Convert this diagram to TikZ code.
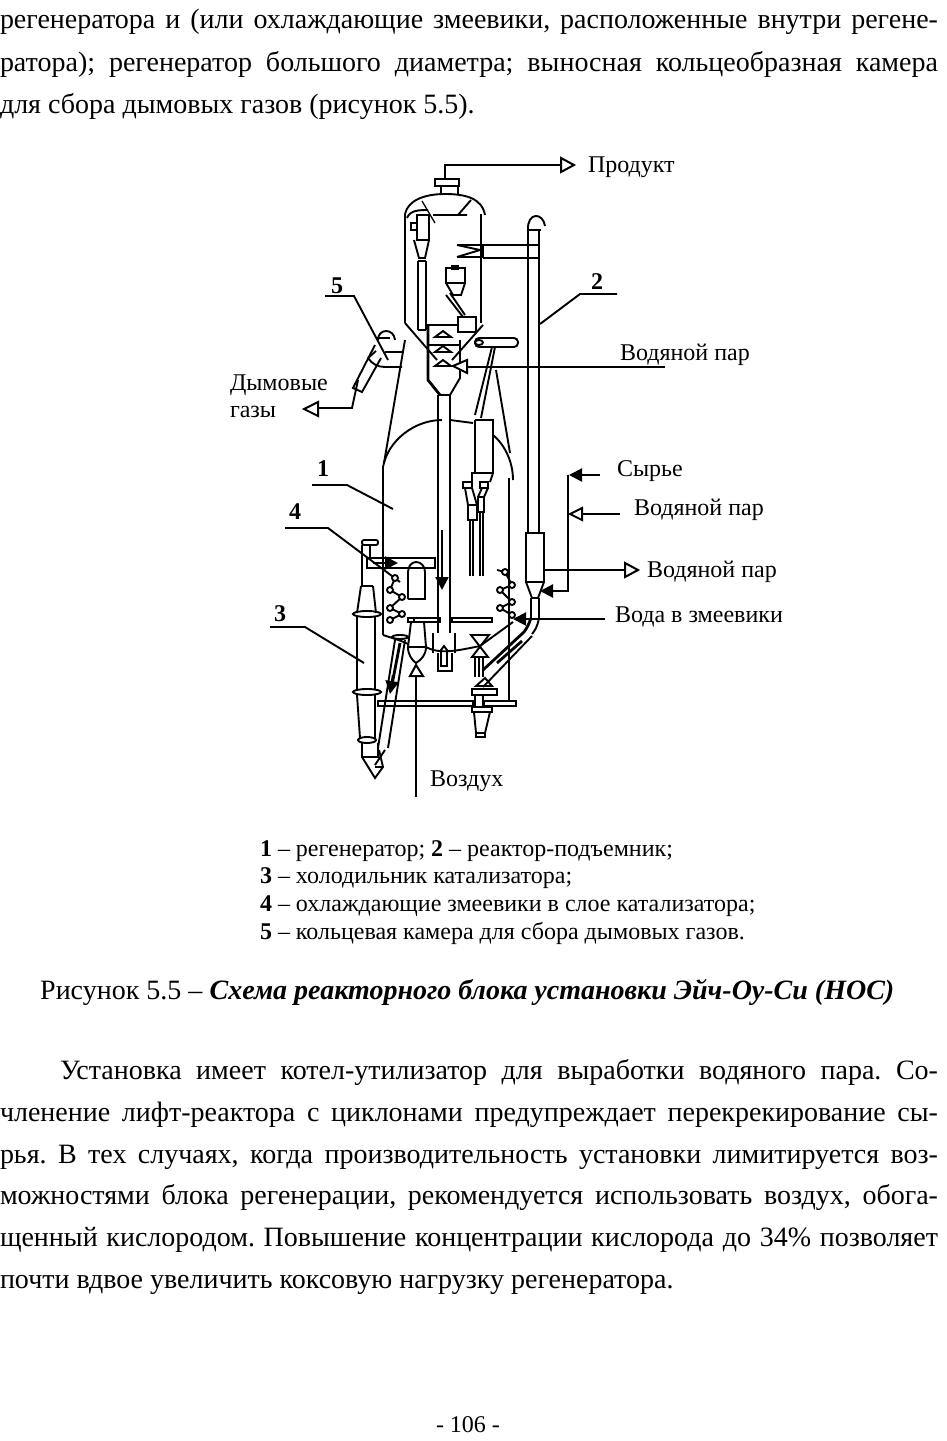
\documentclass[tikz,border=0pt]{standalone}
\usepackage{fontspec}
\setmainfont{Liberation Serif}
\usetikzlibrary{arrows.meta}
\newcommand{\bodyfont}{\fontsize{28}{32}\selectfont\frenchspacing}
\newcommand{\capfont}{\fontsize{28}{32}\selectfont\frenchspacing}
\newcommand{\legfont}{\fontsize{24}{28}\selectfont\frenchspacing}
\newcommand{\lblfont}{\fontsize{24}{28}\selectfont\frenchspacing}
\tikzset{
  pg/.style={anchor=base west,inner sep=0pt,outer sep=0pt,font=\bodyfont},
  lbl/.style={anchor=base west,inner sep=0pt,outer sep=0pt,font=\lblfont},
  leg/.style={anchor=base west,inner sep=0pt,outer sep=0pt,font=\legfont},
  num/.style={anchor=base,inner sep=0pt,outer sep=0pt,font=\lblfont\bfseries},
  eq/.style={line width=1.9pt,line join=miter},
  thin eq/.style={line width=1.3pt},
  thick eq/.style={line width=2.8pt},
  lead/.style={line width=1.9pt},
  solidarrow/.style={line width=2.2pt,-{Triangle[length=13pt,width=13pt]}},
  hollow/.style={line width=2pt,fill=white,line join=miter}
}
\begin{document}
\begin{tikzpicture}[x=1pt,y=-1pt]
\useasboundingbox (0,0) rectangle (946,1441);
\fill[white] (0,0) rectangle (946,1441);
% ---- text above
\node[pg] (t1) at (0,28.5) {\makebox[938pt][s]{регенератора и (или охлаждающие змеевики, расположенные внутри регене-}};
\node[pg] (t2) at (0,71.5) {\makebox[938pt][s]{ратора); регенератор большого диаметра; выносная кольцеобразная камера}};
\node[pg] (t3) at (0,113.5) {для сбора дымовых газов (рисунок 5.5).};
% ---- labels
\node[lbl] (lp) at (588,172.5) {Продукт};
\node[lbl] (lw1) at (620,360) {Водяной пар};
\node[lbl] (ld1) at (230,390) {Дымовые};
\node[lbl] (ld2) at (230,417) {газы};
\node[lbl] (ls) at (617,476.5) {Сырье};
\node[lbl] (lw2) at (634,515.5) {Водяной пар};
\node[lbl] (lw3) at (647,577.5) {Водяной пар};
\node[lbl] (lz) at (615,622.5) {Вода в змеевики};
\node[lbl] (la) at (430,786) {Воздух};
\node[num] (n5) at (337,293) {5};
\node[num] (n2) at (597,289) {2};
\node[num] (n1) at (323,476) {1};
\node[num] (n4) at (295,519) {4};
\node[num] (n3) at (280,621) {3};
% ---- leaders
\draw[lead] (325,296) -- (354,296) -- (388,360);
\draw[lead] (617,294) -- (580,294) -- (540,324);
\draw[lead] (312,485) -- (347,485) -- (393,509);
\draw[lead] (285,528) -- (328,528) -- (400,582);
\draw[lead] (270,627) -- (305,627) -- (364,663);
% ---- reactor top
\draw[eq] (445,179) -- (445,165) -- (562,165);
\draw[hollow] (561,158) -- (574,165) -- (561,172) -- cycle;
\draw[eq] (435,179) rectangle (459,186);
\draw[eq] (441,186) -- (441,194) (458,186) -- (458,194);
\draw[eq] (405,214) .. controls (408,200) and (425,194) .. (445,194) .. controls (465,194) and (482,198) .. (485,215);
\draw[thick eq] (405,214) -- (405,323);
\draw[eq] (405,323) -- (437,360);
\draw[thin eq] (481,214) -- (481,323);
\draw[eq] (483,325) -- (452,360);
\draw[eq] (407,218) .. controls (410,210) and (420,210) .. (428,210);
\draw[thin eq] (422,201) -- (435,223);
\draw[eq] (433,215) -- (467,215) (458,215) -- (471,200);
% small cyclone
\draw[eq] (417,215) rectangle (429,240);
\draw[eq] (411,223) rectangle (417,230);
\draw[eq] (414,240) -- (419,258) -- (425,258) -- (429,240);
\draw[eq] (418,261) -- (426,261);
\draw[thick eq] (418,261) -- (418,330);
\draw[eq] (426,261) -- (426,330);
\draw[eq] (418,330) -- (426,330);
% upper cyclone
\draw[eq] (446,268) rectangle (465,283);
\draw[eq] (452,266) rectangle (458,269);
\draw[eq] (446,283) -- (453,295) -- (461,295) -- (465,283);
\draw[eq] (446,295) -- (463,317) (450,293) -- (465,315);
\draw[thick eq] (458,317) rectangle (476,332);
% entry of riser
\draw[thick eq] (483,245) -- (539,245) (483,258) -- (539,258) (483,245) -- (483,258);
\draw[eq] (457,245) -- (483,245) (457,257) -- (483,257);
\draw[eq] (457,245) -- (480,250) -- (457,257);
% riser
\draw[eq] (528,230) -- (528,533);
\draw[thick eq] (539,230) -- (539,533);
\draw[eq] (527,230) -- (541,230);
\draw[eq] (528,230) .. controls (527,212) and (543,212) .. (545,226);
\draw[eq] (526,533) rectangle (544,582);
\draw[eq] (526,582) -- (532,598) -- (538,598) -- (544,582);
\draw[eq] (531,598) -- (531,618) (539,598) -- (539,618);
\draw[thick eq] (531,618) .. controls (529,624) and (527,628) .. (524,632) -- (483,670);
\draw[eq] (539,618) .. controls (537,628) and (535,630) .. (532,634);
\draw[eq] (532,636) -- (483,687);
\draw[thick eq] (497,663) -- (522,641);
% stripper
\draw[eq] (427,325) -- (457,325);
\draw[thick eq] (428,325) -- (428,380) -- (440,395);
\draw[eq] (460,340) -- (460,378) -- (450,395);
\draw[eq] (438,395) -- (450,395);
\draw[eq] (438,395) -- (438,633) (450,395) -- (450,633);
\foreach \yy in {331,346,360} {\draw[eq] (435,\yy+6) -- (443,\yy) -- (451,\yy+6) -- cycle;}
\draw[eq] (428,345) -- (460,345);
\draw[solidarrow] (442,530) -- (442,590);
% steam to stripper
\draw[eq] (467,367) -- (665,367);
\draw[hollow] (467,360) -- (467,373) -- (453,366) -- cycle;
% header
\draw[eq,rounded corners=4pt] (475,338) rectangle (518,347);
\draw[eq] (479,342.5) ellipse (4 and 2.5);
\draw[eq] (492,347) -- (475,415) (495,347) -- (481,418);
% flue-gas cones
\draw[eq] (405,340) -- (384,463);
\draw[eq] (496,370) -- (510,453);
% dome of regenerator
\draw[eq] (383,467) .. controls (388,440) and (415,420) .. (442,420);
\draw[eq] (450,420) -- (473,423);
\draw[eq] (493,435) .. controls (505,445) and (513,462) .. (513,480);
\draw[eq] (383,467) -- (383,635);
\draw[eq] (509,478) -- (509,700);
% steam-catalyst box
\draw[thick eq] (475,420) -- (475,473);
\draw[eq] (475,420) -- (493,420) -- (493,473) -- (472,473) -- (472,482);
\draw[eq] (493,473) -- (490,482);
\draw[eq] (463,482) rectangle (472,488);
\draw[eq] (480,482) rectangle (488,488);
\draw[eq] (465,488) -- (468,505) (472,488) -- (477,505);
\draw[eq] (482,488) -- (478,497) (488,488) -- (484,497);
\draw[eq] (468,505) rectangle (477,520);
\draw[eq] (478,497) rectangle (484,512);
\draw[eq] (470,520) -- (470,576) (473,520) -- (473,576);
\draw[eq] (480,512) -- (480,576) (483,512) -- (483,576);
% flue chamber
\draw[eq] (378,340) .. controls (378,328) and (394,328) .. (395,340);
\draw[eq] (377,338) -- (390,338);
\draw[eq] (375,345) -- (353,388) -- (362,392) -- (381,358);
\draw[eq] (358,380) -- (352,408) -- (318,408);
\draw[hollow] (304,409) -- (318,402) -- (318,416) -- cycle;
\draw[eq] (385,352) -- (402,352);
\draw[eq] (368,358) .. controls (372,364) and (378,367) .. (385,367) -- (402,367);
\draw[eq] (368,358) -- (376,351);
% left cooler
\draw[eq,rounded corners=2pt] (362,540) rectangle (378,545);
\draw[eq] (362,545) -- (362,586) (370,545) -- (370,558);
\draw[eq] (361,586) -- (373,586);
\draw[eq] (361,586) -- (357,613) (373,586) -- (376,613);
\draw[eq] (367,614) ellipse (14 and 3);
\draw[eq] (357,617) -- (357,689) (375,617) -- (375,689);
\draw[eq] (367,692) ellipse (14 and 3);
\draw[eq] (357,695) -- (360,738) (375,695) -- (375,738);
\draw[eq] (367,740) ellipse (9 and 3);
\draw[eq] (362,743) -- (362,757) -- (378,757) -- (378,743);
\draw[eq] (362,757) -- (375,778) -- (383,767) -- (379,750);
\draw[eq] (375,767) -- (383,767);
\draw[eq] (378,748) -- (395,640);
\draw[eq] (388,748) -- (405,640);
\draw[thick eq] (400,643) -- (391,690);
\draw[solidarrow] (393,675) -- (390,694);
\draw[eq] (375,765) -- (385,750);
% regenerator internals left
\draw[eq] (367,558) -- (435,558) -- (435,568) -- (367,568) -- cycle;
\draw[solidarrow] (373,563) -- (398,563);
\draw[eq] (408,599) -- (408,572) .. controls (408,566) and (412,562) .. (416,562) .. controls (421,562) and (425,566) .. (425,572) -- (425,599) -- (408,599);
\draw[eq] (395,578) -- (390,590) -- (402,597) -- (390,608) -- (402,614) -- (390,620);
\foreach \cx/\cy in {395/578,390/590,402/597,390/608,402/614,390/620} {\draw[eq,fill=white] (\cx,\cy) circle (3);}
\draw[eq] (505,572) -- (512,585) -- (500,590) -- (512,602) -- (500,608) -- (512,615);
\draw[eq] (497,570) -- (505,572);
\foreach \cx/\cy in {505/572,512/585,500/590,512/602,500/608,512/615} {\draw[eq,fill=white] (\cx,\cy) circle (3);}
% plates
\draw[eq] (408,618) rectangle (440,622);
\draw[eq] (452,618) rectangle (492,622);
\draw[eq] (414,618) -- (414,622);
\draw[eq] (378,701) rectangle (473,706);
\draw[eq] (484,701) rectangle (516,706);
% bottom
\draw[eq] (383,635) .. controls (392,638) and (400,640) .. (408,644);
\draw[eq] (400,637) ellipse (8 and 2);
\draw[eq] (426,647) .. controls (440,655) and (460,650) .. (480,646) -- (513,622);
\draw[eq] (433,633) -- (433,653) (455,633) -- (455,653);
\draw[eq] (438,653) -- (438,671) -- (452,671) -- (452,653);
\draw[eq] (441,666) -- (441,650) -- (444,646) -- (447,650) -- (447,666) -- cycle;
% air burner
\draw[eq] (411,622) -- (408,647) .. controls (408,655) and (412,660) .. (416,663) .. controls (421,660) and (426,655) .. (426,647) -- (424,622);
\draw[eq] (408,647) -- (426,647);
\draw[eq] (416,676) -- (416,797);
\draw[hollow] (416,665) -- (423,676) -- (410,676) -- cycle;
% right bottom
\draw[eq] (471,635) -- (489,635) -- (472,657) -- (488,657) -- cycle;
\draw[eq] (475,657) -- (475,677) (479,657) -- (479,677) (483,657) -- (483,677);
\draw[eq] (485,678) -- (476,686) -- (492,686) -- cycle;
\draw[eq] (472,689) rectangle (497,695);
\draw[eq] (475,695) -- (475,707) (483,695) -- (483,707);
\draw[eq] (472,707) rectangle (492,712);
\draw[eq] (474,712) -- (476,733) (490,712) -- (485,733);
\draw[eq] (476,733) rectangle (485,737);
% feeds
\draw[eq] (568,475) -- (568,591) -- (550,591);
\draw[solidarrow] (568,591) -- (540,591);
\draw[solidarrow] (600,475) -- (569,475);
\draw[thick eq] (580,514) -- (620,514);
\draw[hollow] (570,514) -- (582,508) -- (582,520) -- cycle;
\draw[eq] (544,570) -- (625,570);
\draw[hollow] (625,563) -- (638,570) -- (625,577) -- cycle;
\draw[thick eq] (605,619) -- (525,619);
\draw[solidarrow] (530,619) -- (513,619);
% ---- legend
\node[leg] (g1) at (260,856) {\textbf{1} – регенератор; \textbf{2} – реактор-подъемник;};
\node[leg] (g2) at (260,883) {\textbf{3} – холодильник катализатора;};
\node[leg] (g3) at (260,911) {\textbf{4} – охлаждающие змеевики в слое катализатора;};
\node[leg] (g4) at (260,939) {\textbf{5} – кольцевая камера для сбора дымовых газов.};
\node[anchor=base west,inner sep=0pt,font=\capfont] (cap) at (40,999) {Рисунок 5.5 – \textbf{\textit{Схема реакторного блока установки Эйч-Оу-Си (НОС)}}};
% ---- text below
\node[pg] (p1) at (60,1079) {\makebox[878pt][s]{Установка имеет котел-утилизатор для выработки водяного пара. Со-}};
\node[pg] (p2) at (0,1121) {\makebox[938pt][s]{членение лифт-реактора с циклонами предупреждает перекрекирование сы-}};
\node[pg] (p3) at (0,1163) {\makebox[938pt][s]{рья. В тех случаях, когда производительность установки лимитируется воз-}};
\node[pg] (p4) at (0,1204) {\makebox[938pt][s]{можностями блока регенерации, рекомендуется использовать воздух, обога-}};
\node[pg] (p5) at (0,1246) {\makebox[938pt][s]{щенный кислородом. Повышение концентрации кислорода до 34\% позволяет}};
\node[pg] (p6) at (0,1288) {почти вдвое увеличить коксовую нагрузку регенератора.};
\node[lbl] (pn) at (436,1432) {- 106 -};
\end{tikzpicture}
\end{document}
